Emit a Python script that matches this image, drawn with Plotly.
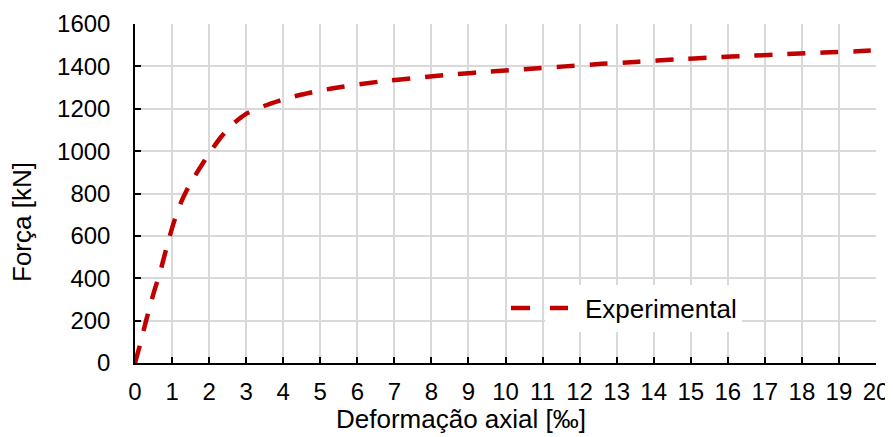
import plotly.graph_objects as go

# Data
deformacao = [0, 0.12, 0.3, 0.5, 0.68, 0.86, 1.05, 1.26, 1.5, 1.75, 2.0, 2.3, 2.6, 3.0, 3.5,
              4.0, 4.5, 5.0, 5.6, 6.6, 7.6, 8.6, 9.6, 10.6, 11.6, 12.6, 13.6, 14.6, 15.6,
              16.6, 17.6, 18.6, 19.6, 20.0]
forca = [0, 76, 200, 328, 430, 550, 665, 765, 850, 920, 988, 1062, 1122, 1176, 1214,
         1244, 1267, 1286, 1304, 1328, 1346, 1362, 1376, 1388, 1400, 1412, 1422, 1433, 1442,
         1450, 1458, 1465, 1472, 1476]

x_ticks = list(range(0, 21))
y_ticks = list(range(0, 1601, 200))

FONT = "Liberation Sans, Arial, sans-serif"
RED = "#c00000"
PAGE_OFFSET = 8  # default body margin of the HTML page

# plot area in page pixels (from reference)
PL, PR, PT, PB = 135, 876, 24, 363
PW, PH = PR - PL, PB - PT


def px(xp):
    return (xp - PL) / PW


def py(yp):
    return (PB - yp) / PH


fig = go.Figure()
fig.add_trace(go.Scatter(
    x=deformacao, y=forca, mode="lines", name="Experimental",
    line=dict(color=RED, width=4.5, dash="18px,15px", shape="spline", smoothing=0.6),
))

fig.update_layout(
    width=893 - PAGE_OFFSET, height=437 - PAGE_OFFSET,
    margin=dict(l=PL - PAGE_OFFSET, r=893 - PR, t=PT - PAGE_OFFSET, b=437 - PB),
    paper_bgcolor="white", plot_bgcolor="white",
    font=dict(family=FONT, size=24, color="black"),
    showlegend=True,
    legend=dict(x=px(545), y=py(308), xanchor="left", yanchor="middle",
                bgcolor="white", borderwidth=0,
                font=dict(family=FONT, size=26, color="black")),
    shapes=[
        dict(type="rect", xref="paper", yref="paper",
             x0=px(473), x1=px(770), y0=py(330), y1=py(287),
             fillcolor="white", line=dict(width=0), layer="between"),
        # first dash of the legend sample (the legend symbol draws the second one)
        dict(type="line", xref="paper", yref="paper",
             x0=px(511), x1=px(530), y0=py(308), y1=py(308),
             line=dict(color=RED, width=4.5), layer="above"),
    ],
    annotations=[
        dict(text="Deformação axial [‰]", xref="paper", yref="paper",
             x=px(461), y=py(419), showarrow=False,
             xanchor="center", yanchor="middle", font=dict(family=FONT, size=26)),
        dict(text="Força [kN]", xref="paper", yref="paper", textangle=-90,
             x=px(22), y=py(222), showarrow=False,
             xanchor="center", yanchor="middle", font=dict(family=FONT, size=26)),
    ],
)

fig.update_xaxes(range=[0, 20], tickvals=x_ticks, ticktext=[str(v) for v in x_ticks],
                 showgrid=True, gridcolor="#d9d9d9", gridwidth=1.5,
                 showline=True, linecolor="black", linewidth=1.5,
                 ticks="inside", ticklen=6, tickcolor="black", tickwidth=1.5,
                 zeroline=False, ticklabelstandoff=6, automargin=False)
fig.update_yaxes(range=[0, 1600], tickvals=y_ticks, ticktext=[str(v) for v in y_ticks],
                 showgrid=True, gridcolor="#d9d9d9", gridwidth=1.5,
                 showline=True, linecolor="black", linewidth=1.5,
                 ticks="inside", ticklen=6, tickcolor="black", tickwidth=1.5,
                 zeroline=False, ticklabelstandoff=18, automargin=False)

fig.write_html("out.html")
